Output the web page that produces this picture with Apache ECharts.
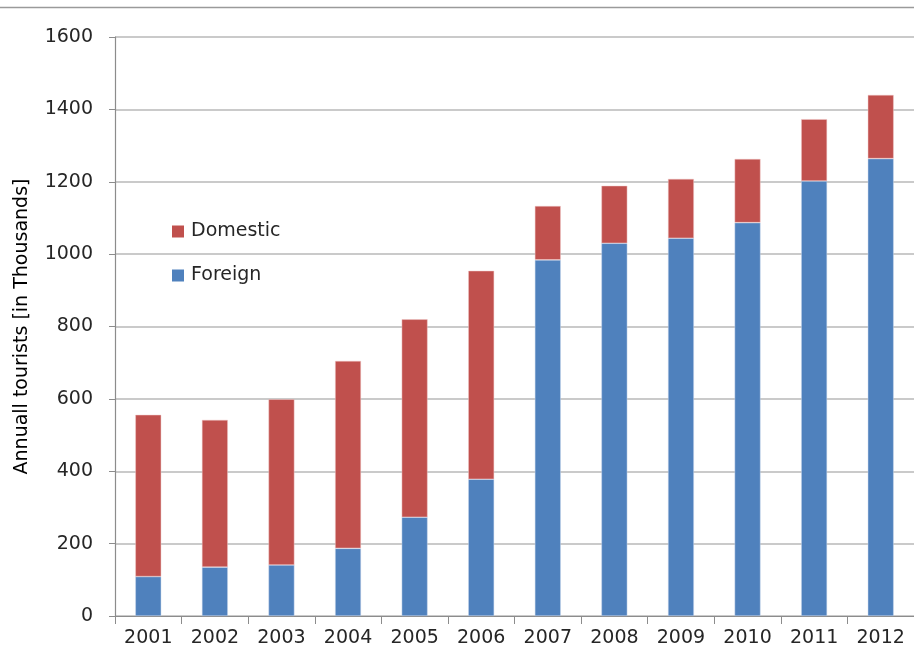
<!DOCTYPE html>
<html>
<head>
<meta charset="utf-8">
<script src="https://cdn.jsdelivr.net/npm/echarts@6/dist/echarts.min.js"></script>
<style>html,body{margin:0;padding:0;background:#fff;}#c{width:914px;height:656px;}</style>
</head>
<body>
<div id="c"></div>
<script>
const years = ['2001','2002','2003','2004','2005','2006','2007','2008','2009','2010','2011','2012'];
const foreign = [109,135,141,187,273,378,984,1030,1044,1087,1202,1264];
const domestic = [447,407,458,518,547,576,149,159,164,176,171,176];
const yTicks = {min:0, max:1600, interval:200};

const FONT = 'DejaVu Sans';
const chart = echarts.init(document.getElementById('c'), null, {renderer:'canvas'});
chart.setOption({
  backgroundColor:'#ffffff',
  animation:false,
  textStyle:{fontFamily:FONT},
  grid:{left:115, right:-2, top:37, bottom:40, containLabel:false},
  legend:{
    orient:'vertical', left:167, top:217, itemGap:25,
    itemWidth:12, itemHeight:12, icon:'rect',
    data:['Domestic','Foreign'],
    itemStyle:{borderWidth:0},
    textStyle:{fontFamily:FONT, fontSize:19, color:'#262626', padding:[0,0,0,2]}
  },
  xAxis:{
    type:'category', data:years,
    axisLine:{lineStyle:{color:'#8c8c8c', width:1.2}},
    axisTick:{show:true, length:8, alignWithLabel:false, lineStyle:{color:'#8c8c8c'}},
    axisLabel:{fontFamily:FONT, fontSize:19, color:'#262626', margin:13}
  },
  yAxis:{
    type:'value', min:yTicks.min, max:yTicks.max, interval:yTicks.interval,
    name:'Annuall tourists [in Thousands]', nameLocation:'middle', nameGap:83,
    nameTextStyle:{fontFamily:FONT, fontSize:19, color:'#000'},
    axisLine:{show:true, lineStyle:{color:'#8c8c8c', width:1.2}},
    axisTick:{show:true, length:6, inside:false, lineStyle:{color:'#8c8c8c'}},
    axisLabel:{fontFamily:FONT, fontSize:19, color:'#262626', margin:22, formatter:function(v){return String(v);}},
    splitLine:{lineStyle:{color:'#b8b8b8', width:1.5}}
  },
  series:[
    {name:'Foreign', type:'bar', stack:'t', data:foreign, barWidth:'39%',
     itemStyle:{color:'#4F81BD', borderColor:'rgba(200,215,235,0.8)', borderWidth:0.6}},
    {name:'Domestic', type:'bar', stack:'t', data:domestic, barWidth:'39%',
     itemStyle:{color:'#C0504D', borderColor:'rgba(240,200,200,0.8)', borderWidth:0.6}}
  ],
  graphic:[{type:'line', shape:{x1:0,y1:7.5,x2:914,y2:7.5}, style:{stroke:'#9a9a9a', lineWidth:1.5}}]
});
</script>
</body>
</html>
